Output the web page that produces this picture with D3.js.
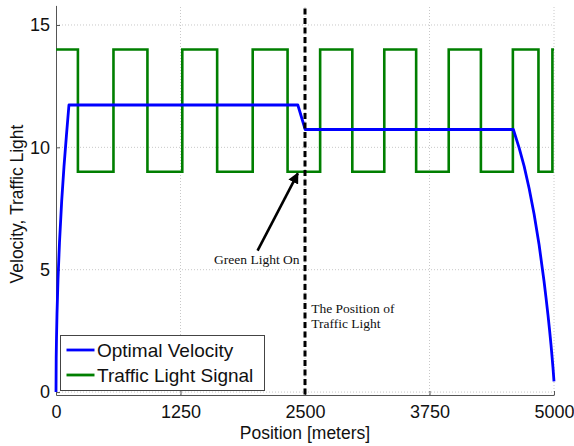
<!DOCTYPE html>
<html>
<head>
<meta charset="utf-8">
<script src="https://cdn.jsdelivr.net/npm/d3@7"></script>
<style>
  html, body { margin: 0; padding: 0; background: #fff; }
  svg { display: block; }
</style>
</head>
<body>
<svg id="chart" width="574" height="446"></svg>
<script>
// ---------------- data ----------------
const xTicks = [0, 1250, 2500, 3750, 5000];
const yTicks = [0, 5, 10, 15];

// Optimal velocity profile (position in m, velocity)
const velocityX = [0, 2, 5, 10, 20, 35, 57, 80, 105, 130, 2428, 2502, 4592, 4650, 4700, 4750, 4800, 4850, 4900, 4920, 4940, 4955, 4970, 4980, 4990, 5000];
const velocityY = [0, 1.4, 2.2, 3.2, 4.6, 6.1, 7.8, 9.2, 10.5, 11.73, 11.73, 10.73, 10.73, 9.98, 9.23, 8.33, 7.28, 6.03, 4.53, 3.85, 3.13, 2.55, 1.93, 1.47, 0.99, 0.44];

// Traffic light signal (step changes)
const signalX = [0, 220, 577, 918, 1268, 1618, 1975, 2325, 2652, 2975, 3296, 3616, 3943, 4266, 4587, 4844, 4984, 5000];
const signalY = [14, 9, 14, 9, 14, 9, 14, 9, 14, 9, 14, 9, 14, 9, 14, 9, 14, 14];

const lightPosition = 2500;
const seriesNames = ["Optimal Velocity", "Traffic Light Signal"];
const seriesColors = ["#0000ff", "#007f00"];

// ---------------- layout ----------------
const svg = d3.select("#chart");
const x = d3.scaleLinear().domain([0, 5000]).range([56, 554]);
const y = d3.scaleLinear().domain([-0.12, 15.8]).range([395, 5.4]);

const sans = "'Liberation Sans', Arial, Helvetica, sans-serif";
const serif = "'Liberation Serif', 'Times New Roman', serif";

// grid
const grid = svg.append("g");
grid.selectAll("line.gx").data(xTicks.filter(d => d > 0)).enter().append("line")
  .attr("x1", d => x(d)).attr("x2", d => x(d))
  .attr("y1", y.range()[0]).attr("y2", y.range()[1])
  .attr("stroke", "#c8c8c8").attr("stroke-width", 1).attr("stroke-dasharray", "1,2");
grid.selectAll("line.gy").data(yTicks).enter().append("line")
  .attr("x1", x.range()[0]).attr("x2", x.range()[1])
  .attr("y1", d => y(d)).attr("y2", d => y(d))
  .attr("stroke", "#c8c8c8").attr("stroke-width", 1).attr("stroke-dasharray", "1,2");

// axes
const xAxis = d3.axisBottom(x).tickValues(xTicks).tickSizeInner(-4).tickSizeOuter(0).tickPadding(8).tickFormat(d3.format("d"));
const yAxis = d3.axisLeft(y).tickValues(yTicks).tickSizeInner(-4).tickSizeOuter(0).tickPadding(6).tickFormat(d3.format("d"));

const gx = svg.append("g").attr("transform", `translate(0,${y.range()[0]})`).call(xAxis);
const gy = svg.append("g").attr("transform", `translate(${x.range()[0]},0)`).call(yAxis);
[gx, gy].forEach(g => {
  g.select(".domain").attr("stroke", "#555").attr("stroke-width", 1);
  g.selectAll(".tick line").attr("stroke", "#555");
  g.selectAll(".tick text").attr("fill", "#111").style("font-family", sans).style("font-size", "18px");
});
gx.selectAll(".tick text").attr("dy", "0.85em");

// axis labels
svg.append("text").attr("x", 305).attr("y", 439).attr("text-anchor", "middle")
  .style("font-family", sans).style("font-size", "17.5px").attr("fill", "#111")
  .text("Position [meters]");
svg.append("text").attr("transform", "translate(23,204) rotate(-90)").attr("text-anchor", "middle")
  .style("font-family", sans).style("font-size", "17.5px").attr("fill", "#111")
  .text("Velocity, Traffic Light");

// series
const signalData = signalX.map((d, i) => [d, signalY[i]]);
const velocityData = velocityX.map((d, i) => [d, velocityY[i]]);

svg.append("path").datum(signalData)
  .attr("d", d3.line().x(d => x(d[0])).y(d => y(d[1])).curve(d3.curveStepAfter))
  .attr("fill", "none").attr("stroke", seriesColors[1]).attr("stroke-width", 2.6)
  .attr("stroke-linejoin", "miter");

svg.append("path").datum(velocityData)
  .attr("d", d3.line().x(d => x(d[0])).y(d => y(d[1])))
  .attr("fill", "none").attr("stroke", seriesColors[0]).attr("stroke-width", 2.8)
  .attr("stroke-linejoin", "round");

// traffic light position dashed line
svg.append("line")
  .attr("x1", x(lightPosition)).attr("x2", x(lightPosition))
  .attr("y1", y.range()[1] + 3).attr("y2", y.range()[0])
  .attr("stroke", "#000").attr("stroke-width", 3).attr("stroke-dasharray", "6,3.5");

// arrow annotation
const defs = svg.append("defs");
defs.append("marker").attr("id", "arrowhead")
  .attr("viewBox", "0 0 10 10").attr("refX", 9).attr("refY", 5)
  .attr("markerWidth", 4.2).attr("markerHeight", 4.2).attr("orient", "auto")
  .attr("markerUnits", "strokeWidth")
  .append("path").attr("d", "M0,0 L10,5 L0,10 z").attr("fill", "#000");

svg.append("line")
  .attr("x1", x(2024)).attr("y1", y(5.78))
  .attr("x2", x(2428)).attr("y2", y(8.94))
  .attr("stroke", "#000").attr("stroke-width", 2.6)
  .attr("marker-end", "url(#arrowhead)");

svg.append("text").attr("x", x(2445)).attr("y", y(5.23)).attr("text-anchor", "end")
  .style("font-family", serif).style("font-size", "13.5px").attr("fill", "#111")
  .text("Green Light On");

const posLabel = svg.append("text").style("font-family", serif).style("font-size", "13.5px").attr("fill", "#111");
posLabel.append("tspan").attr("x", x(2562)).attr("y", y(3.24)).text("The Position of");
posLabel.append("tspan").attr("x", x(2562)).attr("y", y(2.62)).text("Traffic Light");

// legend
const legend = svg.append("g");
legend.append("rect").attr("x", 60.5).attr("y", 335.5).attr("width", 204).attr("height", 55)
  .attr("fill", "#fff").attr("stroke", "#444").attr("stroke-width", 1);
seriesNames.forEach((name, i) => {
  const ly = 350 + i * 25;
  legend.append("line").attr("x1", 66.5).attr("x2", 94.5).attr("y1", ly).attr("y2", ly)
    .attr("stroke", seriesColors[i]).attr("stroke-width", 2.8);
  legend.append("text").attr("x", 97).attr("y", ly + 7)
    .style("font-family", sans).style("font-size", "19px").attr("fill", "#111")
    .text(name);
});
</script>
</body>
</html>
